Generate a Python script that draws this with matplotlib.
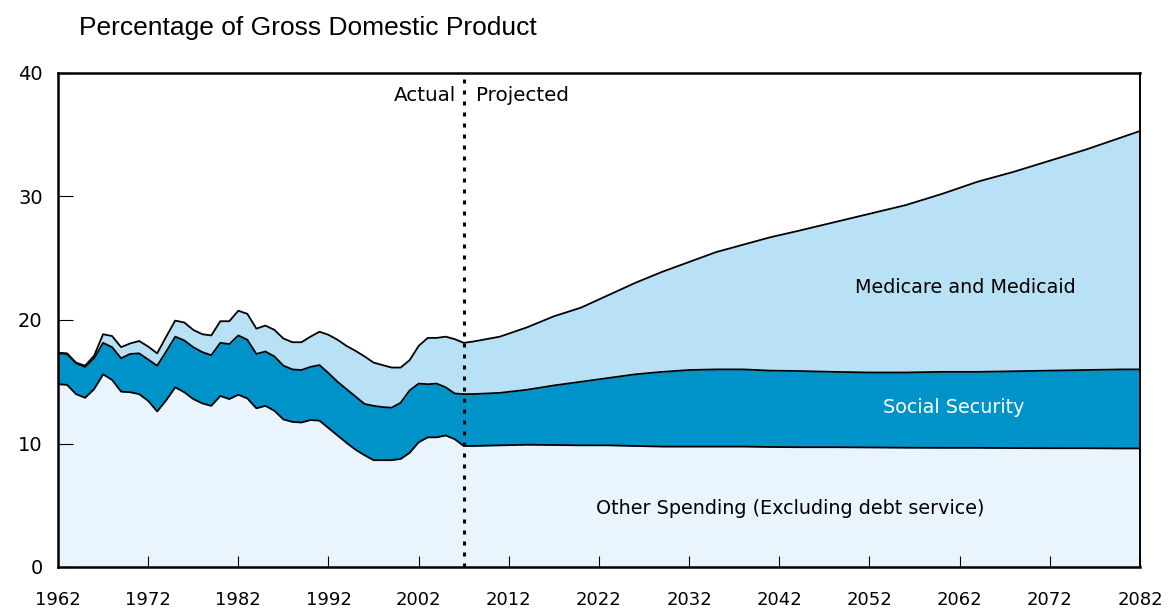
import matplotlib
matplotlib.use("Agg")
import matplotlib.pyplot as plt
import numpy as np

# ---- data (percentage of GDP) ----
years = [1962, 1963, 1964, 1965, 1966, 1967, 1968, 1969, 1970, 1971, 1972, 1973,
         1974, 1975, 1976, 1977, 1978, 1979, 1980, 1981, 1982, 1983, 1984, 1985,
         1986, 1987, 1988, 1989, 1990, 1991, 1992, 1993, 1994, 1995, 1996, 1997,
         1998, 1999, 2000, 2001, 2002, 2003, 2004, 2005, 2006, 2007,
         2008, 2011, 2014, 2017, 2020, 2023, 2026, 2029, 2032, 2035, 2038, 2041,
         2044, 2048, 2052, 2056, 2060, 2064, 2068, 2072, 2076, 2080, 2082]

other_spending = [14.8, 14.75, 14.0, 13.7, 14.4, 15.6, 15.15, 14.2, 14.15, 14.0, 13.45, 12.6,
                  13.5, 14.55, 14.15, 13.6, 13.25, 13.05, 13.85, 13.6, 13.95, 13.65, 12.85, 13.05,
                  12.65, 11.95, 11.75, 11.7, 11.9, 11.85, 11.25, 10.65, 10.05, 9.5, 9.05, 8.65,
                  8.65, 8.65, 8.75, 9.25, 10.1, 10.5, 10.5, 10.65, 10.35, 9.8,
                  9.8, 9.85, 9.9, 9.88, 9.85, 9.85, 9.8, 9.75, 9.75, 9.75, 9.75, 9.72,
                  9.7, 9.7, 9.68, 9.66, 9.65, 9.65, 9.63, 9.62, 9.62, 9.6, 9.6]

other_plus_social_security = [17.3, 17.25, 16.5, 16.2, 16.9, 18.15, 17.8, 16.9, 17.25, 17.3, 16.8, 16.3,
                              17.45, 18.65, 18.35, 17.8, 17.4, 17.15, 18.15, 18.05, 18.75, 18.4, 17.25, 17.45,
                              17.05, 16.3, 16.0, 15.95, 16.2, 16.35, 15.7, 15.0, 14.4, 13.8, 13.2, 13.05,
                              12.95, 12.9, 13.3, 14.3, 14.85, 14.8, 14.85, 14.55, 14.05, 14.0,
                              14.0, 14.1, 14.35, 14.7, 15.0, 15.3, 15.6, 15.8, 15.95, 16.0, 16.0, 15.9,
                              15.87, 15.8, 15.75, 15.75, 15.8, 15.8, 15.85, 15.9, 15.95, 16.0, 16.0]

total_spending = [17.35, 17.3, 16.55, 16.3, 17.1, 18.85, 18.7, 17.8, 18.1, 18.3, 17.85, 17.3,
                  18.65, 19.95, 19.8, 19.2, 18.85, 18.75, 19.9, 19.9, 20.75, 20.5, 19.3, 19.55,
                  19.2, 18.5, 18.2, 18.2, 18.65, 19.05, 18.8, 18.4, 17.9, 17.5, 17.05, 16.55,
                  16.35, 16.15, 16.15, 16.75, 17.9, 18.55, 18.55, 18.65, 18.45, 18.15,
                  18.25, 18.65, 19.4, 20.3, 21.0, 22.0, 23.0, 23.9, 24.7, 25.5, 26.1, 26.7,
                  27.2, 27.9, 28.6, 29.3, 30.2, 31.2, 32.0, 32.9, 33.8, 34.8, 35.3]

x_ticks = [1962, 1972, 1982, 1992, 2002, 2012, 2022, 2032, 2042, 2052, 2062, 2072, 2082]
y_ticks = [0, 10, 20, 30, 40]
split_year = 2007

# ---- figure ----
fig = plt.figure(figsize=(11.68, 6.10), dpi=100)
ax = fig.add_axes([58/1168, 1-567/610, (1140-58)/1168, (567-73)/610])

yrs = np.array(years, dtype=float)
o = np.array(other_spending)
s = np.array(other_plus_social_security)
t = np.array(total_spending)

c_other = "#eaf4fd"
c_ss = "#0093c9"
c_med = "#b8e1f6"

ax.fill_between(yrs, 0, o, color=c_other, lw=0)
ax.fill_between(yrs, o, s, color=c_ss, lw=0)
ax.fill_between(yrs, s, t, color=c_med, lw=0)
for arr in (o, s, t):
    ax.plot(yrs, arr, color="black", lw=1.3, solid_joinstyle="round")

ax.axvline(split_year, color="black", lw=2.2, linestyle=(0, (1.3, 2.3)), zorder=5)

ax.set_xlim(1962, 2082)
ax.set_ylim(0, 40)
ax.set_xticks(x_ticks)
ax.set_yticks(y_ticks)
ax.tick_params(axis="x", direction="in", length=8, width=0.8, pad=17, labelsize=13)
ax.tick_params(axis="y", direction="in", length=11, width=0.8, pad=11, labelsize=14)
for lab in ax.get_xticklabels() + ax.get_yticklabels():
    lab.set_family("DejaVu Sans")

for side in ("left", "bottom", "top"):
    ax.spines[side].set_linewidth(1.8)
ax.spines["right"].set_linewidth(1.4)

fs = 13.8
ax.text(split_year - 0.9, 38.2, "Actual", ha="right", va="center", fontsize=14.3, family="DejaVu Sans")
ax.text(split_year + 1.4, 38.2, "Projected", ha="left", va="center", fontsize=14.3, family="DejaVu Sans")
ax.text(2062.6, 22.6, "Medicare and Medicaid", ha="center", va="center", fontsize=fs, family="DejaVu Sans")
ax.text(2061.3, 12.95, "Social Security", ha="center", va="center", fontsize=fs, color="white", family="DejaVu Sans")
ax.text(2043.2, 4.7, "Other Spending (Excluding debt service)", ha="center", va="center", fontsize=fs, family="DejaVu Sans")

fig.text(79/1168, 1-28/610, "Percentage of Gross Domestic Product", ha="left", va="center",
         fontsize=19, family="Liberation Sans")

fig.savefig("out.png", dpi=100)
